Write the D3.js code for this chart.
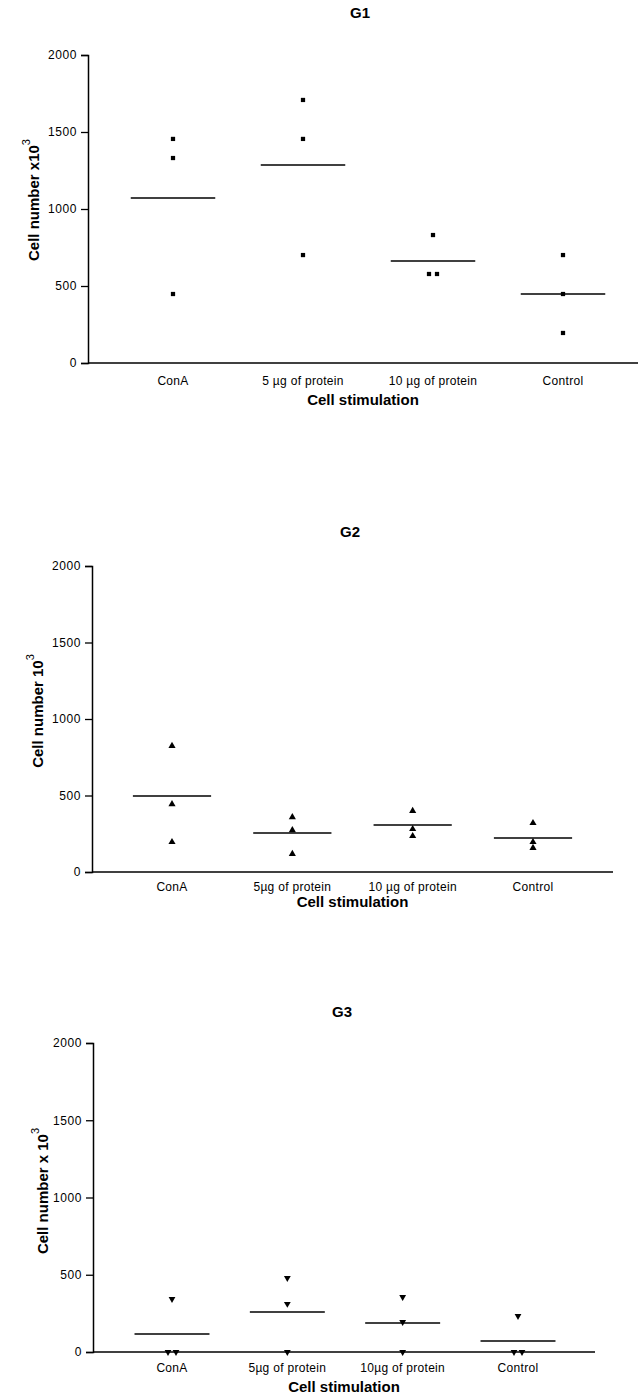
<!DOCTYPE html>
<html>
<head>
<meta charset="utf-8">
<script src="https://cdn.jsdelivr.net/npm/d3@7"></script>
<style>
  body { margin: 0; background: #fff; }
  text { font-family: "Liberation Sans", Arial, sans-serif; fill: #000; }
</style>
</head>
<body>
<svg width="639" height="1396"></svg>
<script>
const svg = d3.select("svg");

// categories (labels differ a little per panel, as in the figure)
const categories = ["ConA", "5ug", "10ug", "Control"];
const g1Labels = ["ConA", "5 µg of protein", "10 µg of protein", "Control"];
const g2Labels = ["ConA", "5µg of protein", "10 µg of protein", "Control"];
const g3Labels = ["ConA", "5µg of protein", "10µg of protein", "Control"];
const yTicks = [0, 500, 1000, 1500, 2000];

// individual values per category (cell number x10^3)
const g1Values = [[1455, 1331, 448], [1708, 1455, 701], [831, 578, 578], [701, 448, 195]];
const g1Means = [1071, 1286, 662, 448];
const g2Values = [[824, 444, 196], [359, 274, 118], [399, 281, 235], [320, 196, 157]];
const g2Means = [497, 255, 307, 222];
const g3Values = [[343, 0, 0], [479, 311, 0], [356, 194, 0], [233, 0, 0]];
const g3Means = [117, 259, 188, 71];

function drawPanel(opt) {
  const y = d3.scaleLinear().domain([0, 2000]).range([opt.bottom, opt.top]);
  const x = d3.scalePoint().domain(categories).range([opt.first, opt.last]);
  const step = x.step();
  const g = svg.append("g");

  // y axis
  const yAxis = g.append("g")
    .attr("transform", `translate(${opt.left},0)`)
    .call(d3.axisLeft(y).tickValues(yTicks).tickSize(7).tickPadding(4).tickFormat(d3.format("d")));
  yAxis.select(".domain").attr("stroke", "#000").attr("stroke-width", 1.5);
  yAxis.selectAll(".tick line").attr("stroke", "#000").attr("stroke-width", 1.3);
  yAxis.selectAll(".tick text")
    .attr("font-size", 12).attr("letter-spacing", 0.6)
    .attr("font-family", "Liberation Sans, Arial, sans-serif");

  // x axis line (no ticks)
  g.append("line")
    .attr("x1", opt.left).attr("x2", opt.right)
    .attr("y1", y(0)).attr("y2", y(0))
    .attr("stroke", "#000").attr("stroke-width", 1.5);

  // category labels
  g.selectAll(".cat")
    .data(categories)
    .enter().append("text")
    .attr("x", d => x(d))
    .attr("y", y(0) + opt.catDy)
    .attr("text-anchor", "middle")
    .attr("font-size", 12).attr("letter-spacing", 0.3)
    .text((d, i) => opt.labels[i]);

  // mean lines
  g.selectAll(".mean")
    .data(opt.means)
    .enter().append("line")
    .attr("x1", (d, i) => x(categories[i]) - step * 0.325)
    .attr("x2", (d, i) => x(categories[i]) + step * 0.325)
    .attr("y1", d => y(d)).attr("y2", d => y(d))
    .attr("stroke", "#000").attr("stroke-width", 1.5);

  // points, duplicates nudged side by side
  const pts = [];
  opt.values.forEach((vals, i) => {
    vals.forEach((v, j) => {
      const same = vals.filter(w => w === v).length;
      const k = vals.slice(0, j).filter(w => w === v).length;
      const dx = same > 1 ? (k - (same - 1) / 2) * 8 : 0;
      pts.push({ cat: categories[i], v, dx });
    });
  });
  const sym = d3.symbol().type(opt.symbol).size(opt.symSize);
  g.selectAll(".pt")
    .data(pts)
    .enter().append("path")
    .attr("d", sym)
    .attr("transform", d => `translate(${x(d.cat) + d.dx},${y(d.v)}) rotate(${opt.rotate})`)
    .attr("fill", "#000");

  // title
  g.append("text")
    .attr("x", opt.titleX).attr("y", opt.titleY)
    .attr("text-anchor", "middle")
    .attr("font-size", 15).attr("font-weight", "bold")
    .text(opt.title);

  // x axis title
  g.append("text")
    .attr("x", (opt.left + opt.right) / 2)
    .attr("y", y(0) + opt.titleDy)
    .attr("text-anchor", "middle")
    .attr("font-size", 15).attr("font-weight", "bold")
    .text("Cell stimulation");

  // y axis title with superscript
  const yt = g.append("text")
    .attr("transform", `translate(${opt.yLabelX},${opt.yLabelY}) rotate(-90)`)
    .attr("text-anchor", "middle")
    .attr("font-size", 15).attr("font-weight", "bold");
  yt.append("tspan").text(opt.yLabel);
  yt.append("tspan").attr("dy", -9).attr("font-size", 11).attr("font-weight", "normal").text("3");
}

drawPanel({
  title: "G1", titleX: 360, titleY: 18,
  left: 88, right: 638, top: 55, bottom: 363, first: 173, last: 563,
  labels: g1Labels, values: g1Values, means: g1Means, catDy: 22, titleDy: 42,
  symbol: d3.symbolSquare, symSize: 18, rotate: 0,
  yLabel: "Cell number x10", yLabelX: 39, yLabelY: 200
});

drawPanel({
  title: "G2", titleX: 350, titleY: 537,
  left: 92, right: 613, top: 566, bottom: 872, first: 172, last: 533,
  labels: g2Labels, values: g2Values, means: g2Means, catDy: 19, titleDy: 35,
  symbol: d3.symbolTriangle, symSize: 22, rotate: 0,
  yLabel: "Cell number 10", yLabelX: 43, yLabelY: 711
});

drawPanel({
  title: "G3", titleX: 342, titleY: 1017,
  left: 93, right: 595, top: 1043, bottom: 1352, first: 172, last: 518,
  labels: g3Labels, values: g3Values, means: g3Means, catDy: 20, titleDy: 40,
  symbol: d3.symbolTriangle, symSize: 20, rotate: 180,
  yLabel: "Cell number x 10", yLabelX: 48, yLabelY: 1191
});
</script>
</body>
</html>
